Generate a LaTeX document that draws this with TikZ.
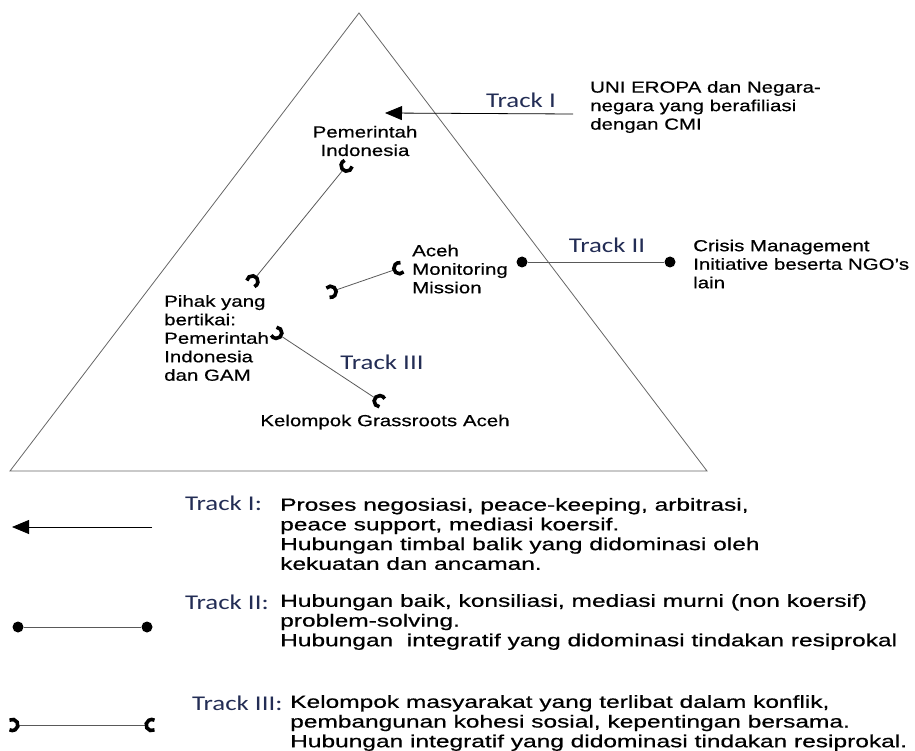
\documentclass[tikz,border=0pt]{standalone}
\usepackage{fontspec}
\setmainfont{Liberation Sans}[FakeStretch=1.28, FakeBold=0.5]
\newfontfamily\trackfont{Carlito}[FakeStretch=1.28]
\newfontfamily\legendfont{Liberation Sans}[FakeStretch=1.4, FakeBold=0.6]
\usetikzlibrary{arrows.meta}
\definecolor{tracknavy}{RGB}{35,45,85}

\tikzset{
  actor/.style={font=\fontsize{16}{18.5}\selectfont, inner sep=0pt},
  tracklbl/.style={font=\trackfont\fontsize{21}{24}\selectfont, text=tracknavy, inner sep=0pt},
  legendtxt/.style={font=\legendfont\fontsize{17.5}{19.7}\selectfont, align=left, anchor=west, inner sep=0pt},
  dot/.style={circle, fill=black, minimum size=11pt, inner sep=0pt},
  socket/.pic={\draw[black, line width=3.6pt] (8.5,4.9) arc[start angle=60, end angle=300, radius=5.6];},
  track1/.style={line width=0.8pt, -{Triangle[length=17pt, width=14pt]}},
  track2/.style={line width=0.8pt, black!65},
  track3/.style={line width=0.8pt, black!65},
}

\begin{document}
\begin{tikzpicture}[x=1pt, y=-1pt]
    \useasboundingbox (0,0) rectangle (915,751);
    % Pyramid
    \draw[line width=0.8pt, black!60] (359,13) -- (707,471) -- (10,471) -- cycle;
    % Parties inside the pyramid
    \node[actor, align=center] (pemerintah) at (365,141) {Pemerintah\\Indonesia};
    \node[actor, align=left, anchor=west] (amm) at (412,269) {Aceh\\Monitoring\\Mission};
    \node[actor, align=left, anchor=west] (pihak) at (164,338) {Pihak yang\\bertikai:\\Pemerintah\\Indonesia\\dan GAM};
    \node[actor] (grassroots) at (385,422) {Kelompok Grassroots Aceh};
    % Outside actors
    \node[actor, align=left, anchor=west] (uni) at (590,107) {UNI EROPA dan Negara-\\negara yang berafiliasi\\dengan CMI};
    \node[actor, align=left, anchor=west] (cmi) at (693,264) {Crisis Management\\Initiative beserta NGO's\\lain};
    % Track I
    \coordinate (t1 from) at (573,114);
    \coordinate (t1 to) at (385,113);
    \draw[track1] (t1 from) -- (t1 to);
    \node[tracklbl] (t1) at (521,100) {Track I};
    % Track II
    \node[dot] (amm dot) at (522,262) {};
    \node[dot] (cmi dot) at (670,262) {};
    \draw[track2] (amm dot) -- (cmi dot);
    \node[tracklbl] (t2) at (607,245) {Track II};
    % Track III
    \coordinate (pem top) at (343,170);
    \coordinate (pem bot) at (256,277);
    \draw[track3] (pem bot) -- (pem top);
    \pic[rotate=50.9] at (pem top) {socket};
    \pic[rotate=230.9] at (pem bot) {socket};
    \coordinate (amm left) at (336,290);
    \coordinate (amm right) at (394,270);
    \draw[track3] (amm left) -- (amm right);
    \pic[rotate=19] at (amm right) {socket};
    \pic[rotate=199] at (amm left) {socket};
    \coordinate (pihak end) at (281,336);
    \coordinate (grass end) at (375,398);
    \draw[track3] (pihak end) -- (grass end);
    \pic[rotate=146.6] at (pihak end) {socket};
    \pic[rotate=-33.4] at (grass end) {socket};
    \node[tracklbl] (t3) at (382,362) {Track III};
    % Legend
    \coordinate (key1 from) at (152,527);
    \coordinate (key1 to) at (12,527);
    \draw[track1] (key1 from) -- (key1 to);
    \node[tracklbl, anchor=west] (key1 lbl) at (185,503) {Track I:};
    \node[legendtxt] (key1 txt) at (280,534) {Proses negosiasi, peace-keeping, arbitrasi,\\peace support, mediasi koersif.\\Hubungan timbal balik yang didominasi oleh\\kekuatan dan ancaman.};
    \node[dot] (key2 a) at (18,627) {};
    \node[dot] (key2 b) at (147,627) {};
    \draw[track2] (key2 a) -- (key2 b);
    \node[tracklbl, anchor=west] (key2 lbl) at (185,602) {Track II:};
    \node[legendtxt] (key2 txt) at (280,622) {Hubungan baik, konsiliasi, mediasi murni (non koersif)\\problem-solving.\\Hubungan\ \ integratif yang didominasi tindakan resiprokal};
    \coordinate (key3 a) at (18,725);
    \coordinate (key3 b) at (146,725);
    \draw[track3] (key3 a) -- (key3 b);
    \pic[rotate=180] at (key3 a) {socket};
    \pic at (key3 b) {socket};
    \node[tracklbl, anchor=west] (key3 lbl) at (192,703) {Track III:};
    \node[legendtxt] (key3 txt) at (290,723) {Kelompok masyarakat yang terlibat dalam konflik,\\pembangunan kohesi sosial, kepentingan bersama.\\Hubungan integratif yang didominasi tindakan resiprokal.};
\end{tikzpicture}
\end{document}
